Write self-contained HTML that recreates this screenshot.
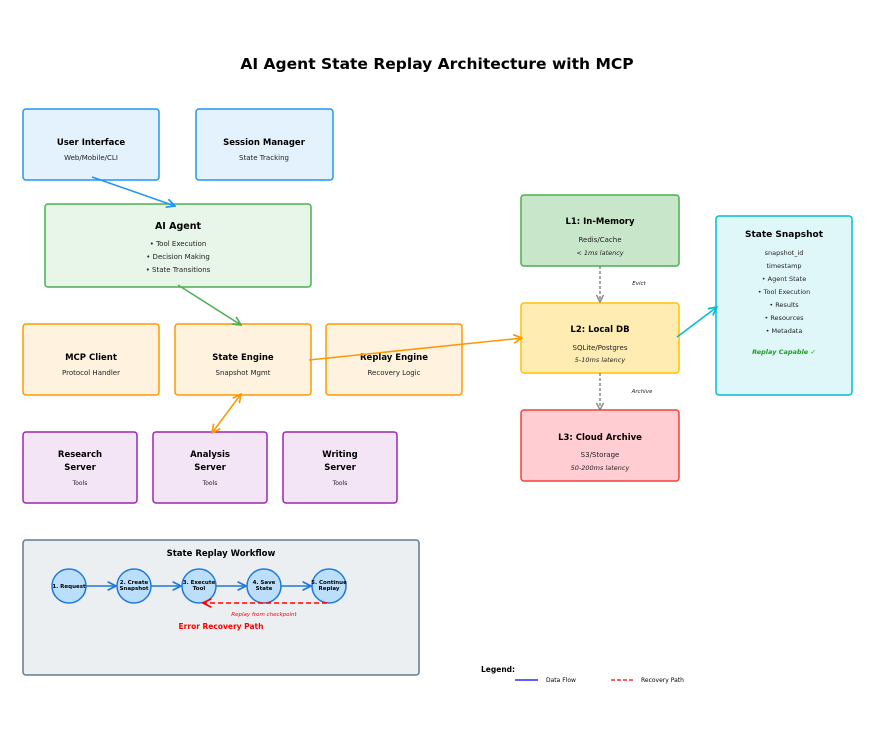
<!DOCTYPE html>
<html><head><meta charset="utf-8"><style>body{margin:0;background:#fff}svg{display:block}text{font-family:"DejaVu Sans","Liberation Sans",sans-serif;}</style></head><body>
<svg width="887" height="730" viewBox="0 0 887 730" xmlns="http://www.w3.org/2000/svg">
<defs>
<marker id="ab" viewBox="0 0 10 10" refX="9" refY="5" markerWidth="7" markerHeight="7" orient="auto-start-reverse"><path d="M1,1 L9,5 L1,9" fill="none" stroke="context-stroke" stroke-width="1.6"/></marker>
<marker id="ac" viewBox="0 0 10 10" refX="9" refY="5" markerWidth="6" markerHeight="6" orient="auto-start-reverse"><path d="M1,1 L9,5 L1,9" fill="none" stroke="#888" stroke-width="1.6"/></marker>
</defs>
<text x="437" y="69" font-size="15.5" font-weight="bold" text-anchor="middle">AI Agent State Replay Architecture with MCP</text>
<g stroke-width="1.5">
<rect x="23" y="109" width="136" height="71" rx="3" fill="#e3f2fd" stroke="#2196f3"/>
<rect x="196" y="109" width="137" height="71" rx="3" fill="#e3f2fd" stroke="#2196f3"/>
<rect x="45" y="204" width="266" height="83" rx="3" fill="#e8f5e9" stroke="#4caf50"/>
<rect x="23" y="324" width="136" height="71" rx="3" fill="#fff3e0" stroke="#ff9800"/>
<rect x="175" y="324" width="136" height="71" rx="3" fill="#fff3e0" stroke="#ff9800"/>
<rect x="326" y="324" width="136" height="71" rx="3" fill="#fff3e0" stroke="#ff9800"/>
<rect x="23" y="432" width="114" height="71" rx="3" fill="#f3e5f5" stroke="#9c27b0"/>
<rect x="153" y="432" width="114" height="71" rx="3" fill="#f3e5f5" stroke="#9c27b0"/>
<rect x="283" y="432" width="114" height="71" rx="3" fill="#f3e5f5" stroke="#9c27b0"/>
<rect x="23" y="540" width="396" height="135" rx="3" fill="#eceff1" stroke="#607d8b"/>
<rect x="521" y="195" width="158" height="71" rx="3" fill="#c8e6c9" stroke="#4caf50"/>
<rect x="521" y="303" width="158" height="70" rx="3" fill="#ffecb3" stroke="#ffc107"/>
<rect x="521" y="410" width="158" height="71" rx="3" fill="#ffcdd2" stroke="#f44336"/>
<rect x="716" y="216" width="136" height="179" rx="3" fill="#e0f7fa" stroke="#00bcd4"/>
</g>
<g font-size="8.5" font-weight="bold" text-anchor="middle">
<text x="91" y="145">User Interface</text>
<text x="264" y="145">Session Manager</text>
<text x="178" y="229" font-size="9.5">AI Agent</text>
<text x="91" y="360">MCP Client</text>
<text x="243" y="360">State Engine</text>
<text x="394" y="360">Replay Engine</text>
<text x="80" y="457">Research</text><text x="80" y="470">Server</text>
<text x="210" y="457">Analysis</text><text x="210" y="470">Server</text>
<text x="340" y="457">Writing</text><text x="340" y="470">Server</text>
<text x="221" y="556">State Replay Workflow</text>
<text x="600" y="224">L1: In-Memory</text>
<text x="600" y="332">L2: Local DB</text>
<text x="600" y="440">L3: Cloud Archive</text>
<text x="784" y="237" font-size="9">State Snapshot</text>
</g>
<g font-size="7" text-anchor="middle" fill="#222">
<text x="91" y="160">Web/Mobile/CLI</text>
<text x="264" y="160">State Tracking</text>
<text x="178" y="246">• Tool Execution</text>
<text x="178" y="259">• Decision Making</text>
<text x="178" y="272">• State Transitions</text>
<text x="91" y="375">Protocol Handler</text>
<text x="243" y="375">Snapshot Mgmt</text>
<text x="394" y="375">Recovery Logic</text>
<text x="80" y="485" font-size="6">Tools</text>
<text x="210" y="485" font-size="6">Tools</text>
<text x="340" y="485" font-size="6">Tools</text>
<text x="600" y="242">Redis/Cache</text>
<text x="600" y="255" font-style="italic" font-size="6.5">&lt; 1ms latency</text>
<text x="600" y="350">SQLite/Postgres</text>
<text x="600" y="362" font-style="italic" font-size="6.5">5-10ms latency</text>
<text x="600" y="457">S3/Storage</text>
<text x="600" y="470" font-style="italic" font-size="6.5">50-200ms latency</text>
<text x="784" y="255" font-size="6.5">snapshot_id</text>
<text x="784" y="268" font-size="6.5">timestamp</text>
<text x="784" y="281" font-size="6.5">• Agent State</text>
<text x="784" y="294" font-size="6.5">• Tool Execution</text>
<text x="784" y="307" font-size="6.5">• Results</text>
<text x="784" y="320" font-size="6.5">• Resources</text>
<text x="784" y="333" font-size="6.5">• Metadata</text>
<text x="784" y="354" font-size="6.5" font-weight="bold" font-style="italic" fill="#1b9e20">Replay Capable ✓</text>
<text x="639" y="285" font-size="5.5" font-style="italic">Evict</text>
<text x="642" y="393" font-size="5.5" font-style="italic">Archive</text>
</g>
<g stroke-width="1.5" fill="none">
<line x1="92" y1="177" x2="175" y2="206" stroke="#2196f3" marker-end="url(#ab)"/>
<line x1="178" y1="285" x2="241" y2="325" stroke="#4caf50" marker-end="url(#ab)"/>
<line x1="309" y1="360" x2="522" y2="338" stroke="#ff9800" marker-end="url(#ab)"/>
<line x1="241" y1="394" x2="212" y2="433" stroke="#ff9800" marker-end="url(#ab)" marker-start="url(#ab)"/>
<line x1="677" y1="337" x2="717" y2="307" stroke="#00bcd4" marker-end="url(#ab)"/>
<line x1="600" y1="266" x2="600" y2="302" stroke="#888" stroke-dasharray="3,2" marker-end="url(#ac)"/>
<line x1="600" y1="373" x2="600" y2="410" stroke="#888" stroke-dasharray="3,2" marker-end="url(#ac)"/>
</g>
<g stroke="#1e7ad6" stroke-width="1.5" fill="none">
<line x1="86" y1="586" x2="116" y2="586" marker-end="url(#ab)"/>
<line x1="151" y1="586" x2="181" y2="586" marker-end="url(#ab)"/>
<line x1="216" y1="586" x2="246" y2="586" marker-end="url(#ab)"/>
<line x1="281" y1="586" x2="311" y2="586" marker-end="url(#ab)"/>
</g>
<g fill="#bbdefb" stroke="#1e7ad6" stroke-width="1.5">
<circle cx="69" cy="586" r="17"/><circle cx="134" cy="586" r="17"/><circle cx="199" cy="586" r="17"/><circle cx="264" cy="586" r="17"/><circle cx="329" cy="586" r="17"/>
</g>
<line x1="327" y1="603" x2="203" y2="603" stroke="#f00" stroke-width="1.5" stroke-dasharray="5,3" marker-end="url(#ab)"/>
<g font-size="5.5" font-weight="bold" text-anchor="middle">
<text x="69" y="588">1. Request</text>
<text x="134" y="584">2. Create</text><text x="134" y="590">Snapshot</text>
<text x="199" y="584">3. Execute</text><text x="199" y="590">Tool</text>
<text x="264" y="584">4. Save</text><text x="264" y="590">State</text>
<text x="329" y="584">5. Continue</text><text x="329" y="590">Replay</text>
</g>
<text x="264" y="616" font-size="5.5" font-style="italic" fill="#f00" text-anchor="middle">Replay from checkpoint</text>
<text x="221" y="629" font-size="7.5" font-weight="bold" fill="#f00" text-anchor="middle">Error Recovery Path</text>
<text x="481" y="672" font-size="7.5" font-weight="bold">Legend:</text>
<line x1="515" y1="680" x2="538" y2="680" stroke="#0000ff" stroke-width="1.3"/>
<text x="546" y="682" font-size="6">Data Flow</text>
<line x1="611" y1="680" x2="633" y2="680" stroke="#f00" stroke-width="1.3" stroke-dasharray="4,2"/>
<text x="641" y="682" font-size="6">Recovery Path</text>
</svg>
</body></html>
